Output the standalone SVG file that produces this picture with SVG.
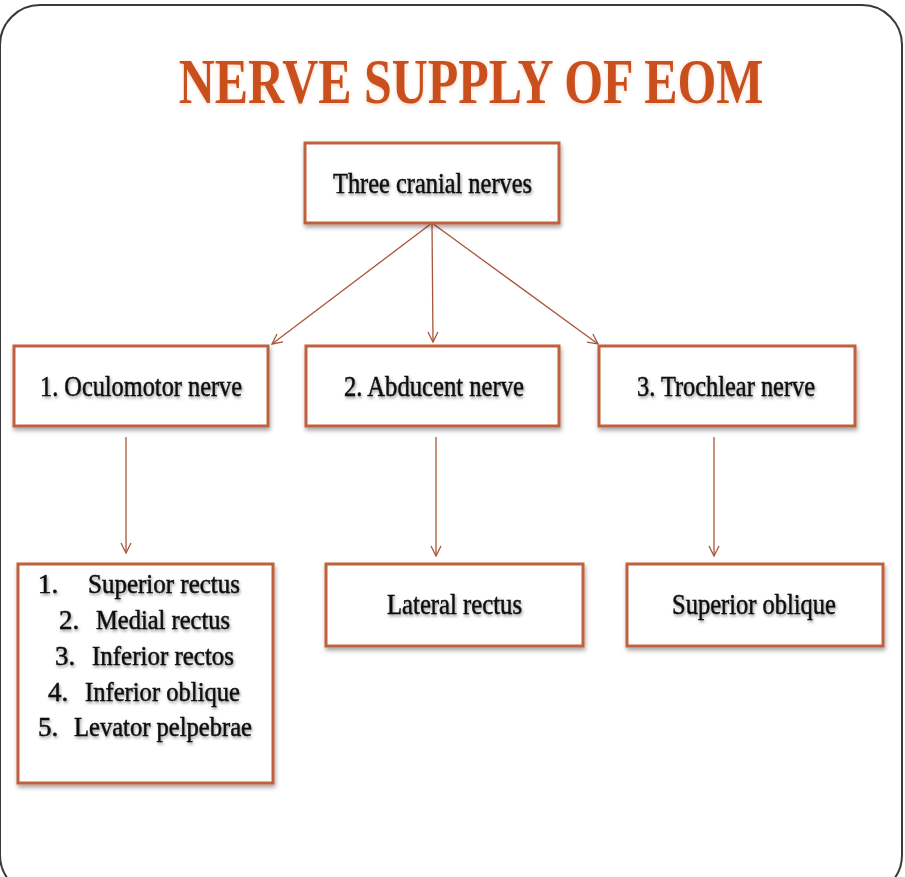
<svg xmlns="http://www.w3.org/2000/svg" width="905" height="877" viewBox="0 0 905 877">
<defs>
<filter id="sh" x="-10%" y="-10%" width="130%" height="130%"><feDropShadow dx="1" dy="3" stdDeviation="2" flood-color="#000" flood-opacity="0.35"/></filter>
<filter id="tsh" x="-10%" y="-40%" width="120%" height="200%"><feDropShadow dx="1" dy="2" stdDeviation="1.5" flood-color="#000" flood-opacity="0.4"/></filter>
<filter id="glow" x="-10%" y="-40%" width="120%" height="200%"><feDropShadow dx="0" dy="1" stdDeviation="2" flood-color="#e08a5a" flood-opacity="0.4"/></filter>
<marker id="arr" viewBox="0 0 12 12" refX="11" refY="6" markerWidth="12" markerHeight="12" markerUnits="userSpaceOnUse" orient="auto"><path d="M1,1 L11,6 L1,11" fill="none" stroke="#a8553a" stroke-width="1.3"/></marker>
<style>
.box{fill:#fff;stroke:#c0603c;stroke-width:3;filter:url(#sh)}
.t{font-family:"Liberation Serif",serif;font-size:29px;fill:#111;stroke:#111;stroke-width:0.5;filter:url(#tsh)}
.l{font-size:27px}
.ln{stroke:#a8553a;stroke-width:1.3;fill:none;marker-end:url(#arr)}
</style>
</defs>
<rect x="0" y="0" width="905" height="877" fill="#fff"/>
<rect x="0" y="5" width="902" height="890" rx="40" ry="40" fill="#fff" stroke="#3a3a3a" stroke-width="2"/>
<text transform="translate(471,103) scale(0.78,1)" x="0" y="0" text-anchor="middle" font-family="Liberation Serif, serif" font-weight="bold" font-size="64" fill="#c9501f" filter="url(#glow)">NERVE SUPPLY OF EOM</text>
<g id="connectors">
<line class="ln" x1="432" y1="223" x2="272" y2="344"/>
<line class="ln" x1="432" y1="223" x2="433" y2="342"/>
<line class="ln" x1="432" y1="223" x2="598" y2="344"/>
<line class="ln" x1="126" y1="437" x2="126" y2="553"/>
<line class="ln" x1="436" y1="437" x2="436" y2="556"/>
<line class="ln" x1="714" y1="437" x2="714" y2="556"/>
</g>
<g id="root">
<rect class="box" x="305" y="143" width="254" height="80"/>
<text class="t" x="333" y="193" textLength="199" lengthAdjust="spacingAndGlyphs">Three cranial nerves</text>
</g>
<g id="oculomotor">
<rect class="box" x="14" y="346" width="254" height="80"/>
<text class="t" x="40" y="396" textLength="202" lengthAdjust="spacingAndGlyphs">1. Oculomotor nerve</text>
</g>
<g id="abducent">
<rect class="box" x="306" y="346" width="253" height="80"/>
<text class="t" x="344" y="396" textLength="180" lengthAdjust="spacingAndGlyphs">2. Abducent nerve</text>
</g>
<g id="trochlear">
<rect class="box" x="599" y="346" width="256" height="80"/>
<text class="t" x="637" y="396" textLength="178" lengthAdjust="spacingAndGlyphs">3. Trochlear nerve</text>
</g>
<g id="oculomotor-muscles">
<rect class="box" x="18" y="564" width="255" height="219"/>
<text class="t l" y="593"><tspan x="38">1.</tspan><tspan x="88" textLength="152" lengthAdjust="spacingAndGlyphs">Superior rectus</tspan></text>
<text class="t l" y="629"><tspan x="59">2.</tspan><tspan x="96" textLength="134" lengthAdjust="spacingAndGlyphs">Medial rectus</tspan></text>
<text class="t l" y="665"><tspan x="55">3.</tspan><tspan x="92" textLength="142" lengthAdjust="spacingAndGlyphs">Inferior rectos</tspan></text>
<text class="t l" y="701"><tspan x="48">4.</tspan><tspan x="85" textLength="155" lengthAdjust="spacingAndGlyphs">Inferior oblique</tspan></text>
<text class="t l" y="736"><tspan x="38">5.</tspan><tspan x="74" textLength="178" lengthAdjust="spacingAndGlyphs">Levator pelpebrae</tspan></text>
</g>
<g id="lateral-rectus">
<rect class="box" x="326" y="564" width="257" height="82"/>
<text class="t" x="387" y="614" textLength="135" lengthAdjust="spacingAndGlyphs">Lateral rectus</text>
</g>
<g id="superior-oblique">
<rect class="box" x="627" y="564" width="256" height="82"/>
<text class="t" x="672" y="614" textLength="164" lengthAdjust="spacingAndGlyphs">Superior oblique</text>
</g>
</svg>
